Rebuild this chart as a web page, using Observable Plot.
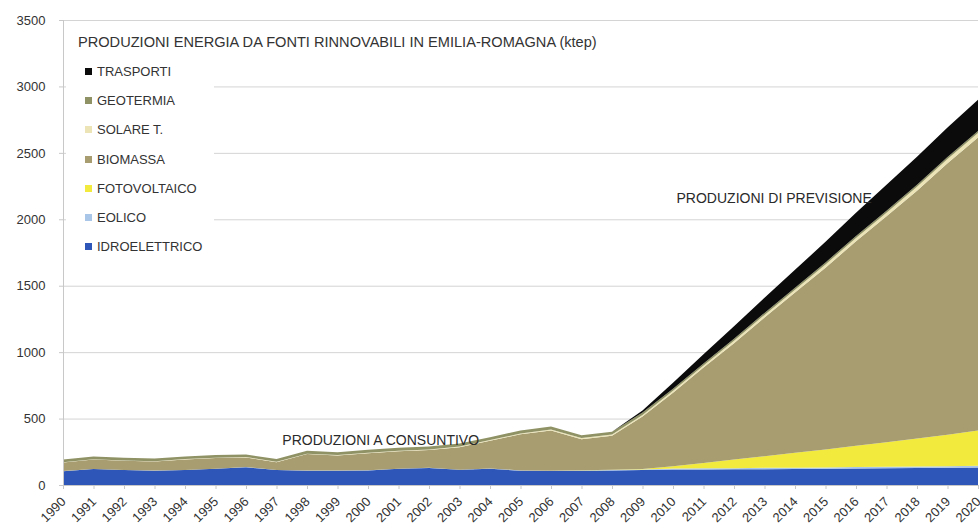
<!DOCTYPE html>
<html>
<head>
<meta charset="utf-8">
<script src="https://cdn.jsdelivr.net/npm/d3@7"></script>
<script src="https://cdn.jsdelivr.net/npm/@observablehq/plot@0.6"></script>
<style>
  body { margin: 0; background: #fff; font-family: "Liberation Sans", Arial, sans-serif; }
  #wrap { position: relative; width: 980px; height: 530px; overflow: hidden; }
  #title { position: absolute; left: 78px; top: 34px; font-size: 14.6px; color: #333; white-space: nowrap; }
  #legend { position: absolute; left: 66px; top: 58px; width: 148px; height: 204px; background: #fff; }
  .item { position: absolute; left: 0; height: 16px; font-size: 13px; color: #333; white-space: nowrap; }
  .sw { position: absolute; left: 19px; top: 4px; width: 7px; height: 7px; }
  .lab { position: absolute; left: 31px; top: 0; line-height: 16px; }
</style>
</head>
<body>
<div id="wrap">
  <div id="chart"></div>
  <div id="legend"></div>
  <div id="title">PRODUZIONI ENERGIA DA FONTI RINNOVABILI IN EMILIA-ROMAGNA (ktep)</div>
</div>
<script>
const years = [1990,1991,1992,1993,1994,1995,1996,1997,1998,1999,2000,2001,2002,2003,2004,2005,2006,2007,2008,2009,2010,2011,2012,2013,2014,2015,2016,2017,2018,2019,2020];
const idroelettrico = [104,120,112,108,112,122,134,112,108,108,110,122,128,114,122,108,105,108,110,112,116,117,118,119,120,122,124,126,128,130,132];
const eolico        = [1,1,1,1,1,1,1,1,1,1,1,1,1,1,2,2,2,2,3,5,8,9,9,10,10,10,11,11,12,12,13];
const fotovoltaico  = [0,0,0,0,0,0,0,0,0,0,0,0,0,0,0,0,0,1,2,4,17,40,64,88,112,135,160,185,210,237,265];
const biomassa      = [64,70,69,67,79,80,72,59,124,113,128,131,135,170,209,272,304,234,255,394,554,718,876,1043,1206,1369,1539,1700,1865,2042,2205];
const solareT       = [3,3,3,3,3,3,3,3,3,3,4,4,4,5,5,6,7,8,10,12,14,16,18,20,22,24,26,28,30,32,35];
const geotermia     = [20,20,20,20,20,20,20,20,22,22,22,22,22,22,22,22,22,22,20,18,16,15,15,15,15,15,15,15,15,15,15];
const trasporti     = [0,0,0,0,0,0,0,0,0,0,0,0,0,0,0,0,0,0,0,15,45,70,95,115,135,155,175,195,210,222,235];

const seriesNames  = ["IDROELETTRICO","EOLICO","FOTOVOLTAICO","BIOMASSA","SOLARE T.","GEOTERMIA","TRASPORTI"];
const seriesColors = ["#2e56b8","#a9c5e8","#f2ea3c","#a79d71","#ece4b6","#8f9264","#0b0b0b"];
const seriesValues = [idroelettrico, eolico, fotovoltaico, biomassa, solareT, geotermia, trasporti];

const yTicks = [0,500,1000,1500,2000,2500,3000,3500];

const annoLabels = ["PRODUZIONI A CONSUNTIVO","PRODUZIONI DI PREVISIONE"];
const annoYears  = [2000.4, 2013.3];
const annoValues = [342, 2162];

const rows = [];
seriesNames.forEach((s, i) => years.forEach((y, j) => rows.push({series: s, year: y, value: seriesValues[i][j]})));
const annos = annoLabels.map((t, i) => ({text: t, year: annoYears[i], value: annoValues[i]}));

const chart = Plot.plot({
  width: 980,
  height: 530,
  marginLeft: 63,
  marginRight: 2,
  marginTop: 20,
  marginBottom: 45,
  style: {fontFamily: "Liberation Sans, Arial, sans-serif", fontSize: "13px", color: "#333", background: "#fff"},
  x: {type: "linear", domain: [1990, 2020]},
  y: {domain: [0, 3500]},
  color: {domain: seriesNames, range: seriesColors},
  marks: [
    Plot.gridY(yTicks, {stroke: "#d4d4d4", strokeOpacity: 1}),
    Plot.areaY(rows, {x: "year", y: "value", fill: "series", z: "series"}),
    Plot.ruleX([1990], {stroke: "#c8c8c8"}),
    Plot.ruleY([0], {stroke: "#c8c8c8"}),
    Plot.axisY(yTicks, {tickSize: 4, tickPadding: 14, tickFormat: "d", stroke: "#c8c8c8", fill: "#333", label: null}),
    Plot.axisX(years, {tickSize: 4, tickFormat: () => "", stroke: "#c8c8c8", label: null}),
    Plot.text(years, {x: d => d, frameAnchor: "bottom", text: d => String(d), rotate: -45, textAnchor: "end", dx: 3, dy: 17, fill: "#333", fontSize: 13}),
    Plot.text(annos, {x: "year", y: "value", text: "text", fill: "#2a2a2a", fontSize: 14})
  ]
});
document.getElementById("chart").appendChild(chart);

const legend = document.getElementById("legend");
const order = seriesNames.map((n, i) => i).reverse();
order.forEach((idx, k) => {
  const it = document.createElement("div");
  it.className = "item";
  it.style.top = (6 + k * 29.2) + "px";
  const sw = document.createElement("div");
  sw.className = "sw";
  sw.style.background = seriesColors[idx];
  const lab = document.createElement("div");
  lab.className = "lab";
  lab.textContent = seriesNames[idx];
  it.appendChild(sw); it.appendChild(lab);
  legend.appendChild(it);
});
</script>
</body>
</html>
